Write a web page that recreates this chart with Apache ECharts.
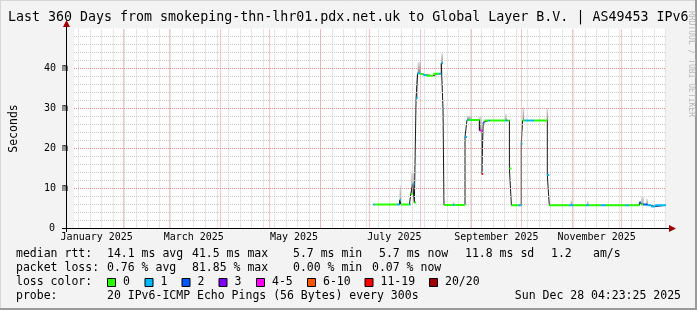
<!DOCTYPE html>
<html><head><meta charset="utf-8">
<script src="https://cdn.jsdelivr.net/npm/echarts@6/dist/echarts.min.js"></script>
<style>html,body{margin:0;padding:0;background:#f3f3f3}#c{width:697px;height:310px}</style>
</head><body><div id="c"></div>
<script>
const titleText = 'Last 360 Days from smokeping-thn-lhr01.pdx.net.uk to Global Layer B.V. | AS49453 IPv6';
const rangeStart = '2025-01-02 04:23:25';
const rangeEnd = '2025-12-28 04:23:25';
const monthLabelDates = ['2025-01-16','2025-03-16','2025-05-16','2025-07-16','2025-09-16','2025-11-16'];
const monthLabels = ['January 2025','March 2025','May 2025','July 2025','September 2025','November 2025'];
const yTicks = [0,10,20,30,40];
const yTickLabels = ['{z|0}','10 m','20 m','30 m','40 m'];

const lossNames = ['0','1','2','3','4-5','6-10','11-19','20/20'];
const lossColors = ['#26ff00','#00b8ff','#0059ff','#7e00ff','#ff00ff','#ff5500','#ff0000','#a00000'];

// median rtt (ms): each value holds from its time until the next time
const medianTimes = [
 '2025-07-03 04:00','2025-07-04 04:00','2025-07-17 13:00','2025-07-19 04:00','2025-07-19 23:00',
 '2025-07-25 04:00','2025-07-25 23:00','2025-07-27 04:00','2025-07-28 04:00','2025-07-29 05:00',
 '2025-07-30 04:00','2025-07-31 14:00','2025-08-02 14:00','2025-08-04 09:00','2025-08-08 14:00',
 '2025-08-12 04:00','2025-08-13 13:00','2025-08-14 14:00','2025-08-15 04:00','2025-08-20 14:00',
 '2025-08-21 14:00','2025-08-27 23:00','2025-08-29 04:00','2025-08-30 09:00','2025-09-05 19:00',
 '2025-09-07 04:00','2025-09-08 00:00','2025-09-08 19:00','2025-09-11 04:00','2025-09-11 23:00',
 '2025-09-21 13:00','2025-09-22 18:00','2025-09-23 23:00','2025-09-25 04:00','2025-09-29 14:00',
 '2025-10-01 04:00','2025-10-02 00:00','2025-10-03 09:00','2025-10-05 19:00','2025-10-06 09:00',
 '2025-10-08 19:00','2025-10-17 00:00','2025-10-18 05:00','2025-10-30 09:00','2025-11-01 19:00',
 '2025-11-09 14:00','2025-11-11 09:00','2025-11-18 14:00','2025-11-21 14:00','2025-12-03 14:00',
 '2025-12-05 09:00','2025-12-11 23:00','2025-12-13 00:00','2025-12-14 09:00','2025-12-16 19:00',
 '2025-12-19 04:00','2025-12-21 14:00'
];
const medianValues = [
 6.0, 6.0, 6.0, 7.1, 6.0,
 6.0, 8.6, 11.1, 6.5, 32.6,
 38.8, 38.6, 38.4, 38.2, 38.7,
 38.7, 41.3, 29.9, 5.9, 5.9,
 5.9, 22.9, 27.1, 27.1, 24.5,
 13.6, 26.5, 27.0, 27.0, 27.0,
 27.0, 27.0, 15.0, 5.8, 5.8,
 21.2, 27.0, 27.0, 27.0, 27.0,
 27.0, 13.4, 5.8, 5.8, 5.8,
 5.8, 5.8, 5.8, 5.8, 5.8,
 5.8, 6.5, 6.0, 6.0, 5.8,
 5.5, 5.8
];
// loss colour class index (into lossNames) for each median step
const medianLoss = [
 1, 0, 1, 1, 0,
 1, 0, 1, 0, 1,
 1, 0, 1, 0, 0,
 1, 1, 1, 0, 1,
 0, 1, 1, 0, 4,
 6, 2, 0, 1, 0,
 1, 0, 0, 0, 1,
 1, 0, 1, 0, 1,
 0, 1, 0, 1, 0,
 1, 0, 1, 0, 1,
 0, 2, 0, 2, 1,
 1, 1
];

// smoke (spread of the 20 pings) : start, end, low, high (ms)
const smokeStart = ['2025-07-19 04:00','2025-07-26 04:00','2025-07-29 05:00','2025-07-30 04:00','2025-08-13 13:00',
 '2025-08-20 14:00','2025-08-29 04:00','2025-09-05 04:00','2025-09-21 09:00','2025-10-02 00:00',
 '2025-10-16 14:00','2025-10-31 04:00','2025-11-10 04:00','2025-12-13 04:00','2025-12-16 04:00'];
const smokeEnd = ['2025-07-19 23:00','2025-07-28 04:00','2025-07-30 04:00','2025-08-01 04:00','2025-08-14 14:00',
 '2025-08-21 14:00','2025-08-31 23:00','2025-09-07 04:00','2025-09-22 04:00','2025-10-02 19:00',
 '2025-10-17 00:00','2025-11-01 00:00','2025-11-11 00:00','2025-12-14 14:00','2025-12-17 04:00'];
const smokeLow = [6.0, 8.6, 32.6, 38.8, 41.3, 5.9, 27.1, 24.5, 27.0, 27.0, 27.0, 5.8, 5.8, 6.0, 5.8];
const smokeHigh = [10.7, 14.0, 38.4, 41.6, 43.8, 6.6, 28.2, 28.0, 28.6, 30.3, 30.1, 7.0, 6.8, 8.0, 7.4];

function ts(s){
  const parts = s.split(' ');
  const d = parts[0].split('-').map(Number);
  const t = (parts[1] || '00:00:00').split(':').map(Number);
  return new Date(d[0], d[1]-1, d[2], t[0]||0, t[1]||0, t[2]||0).getTime();
}

const tStart = ts(rangeStart), tEnd = ts(rangeEnd);
const labelTs = monthLabelDates.map(ts);

const medianLine = medianTimes.map((t,i)=>[ts(t), medianValues[i]]);
medianLine.push([tEnd, medianValues[medianValues.length-1]]);

const lossSeries = lossColors.map((c,k)=>{
  const data = [];
  for (let i=0;i<medianTimes.length;i++){
    if (medianLoss[i] !== k) continue;
    const a = ts(medianTimes[i]);
    const b = i+1<medianTimes.length ? ts(medianTimes[i+1]) : tEnd;
    data.push([a, medianValues[i]], [b, medianValues[i]], [b, null]);
  }
  return {type:'line', data, symbol:'none', lineStyle:{color:c, width:2}, z:5,
          connectNulls:false, silent:true, animation:false};
});

const smokeData = smokeStart.map((s,i)=>[ts(s), ts(smokeEnd[i]), smokeLow[i], smokeHigh[i]]);

// grid lines: weekly (Sundays) + monthly vertical, 2 ms minor + 10 ms major horizontal
const weekLines = [];
for (let k=0;;k++){ const v = new Date(2025,0,5+7*k).getTime(); if (v>tEnd) break; weekLines.push({xAxis:v}); }
const monthLines = [];
for (let m=1;m<12;m++){ monthLines.push({xAxis:new Date(2025,m,1).getTime()}); }
const minorHLines = [];
for (let v=2; v<50; v+=2){ if (v%10!==0) minorHLines.push({yAxis:v}); }
const majorHLines = yTicks.filter(v=>v>0).map(v=>({yAxis:v}));

const mono = '"DejaVu Sans Mono", monospace';
const gridGray = '#cccccc';
const gridRed = '#e89090';
const chart = echarts.init(document.getElementById('c'), null, {renderer:'canvas'});

const graphics = [];
graphics.push({type:'line', shape:{x1:0,y1:0.5,x2:697,y2:0.5}, style:{stroke:'#d6d6d6',lineWidth:1}});
graphics.push({type:'line', shape:{x1:0.5,y1:0,x2:0.5,y2:310}, style:{stroke:'#d6d6d6',lineWidth:1}});
graphics.push({type:'line', shape:{x1:0,y1:309,x2:697,y2:309}, style:{stroke:'#9a9a9a',lineWidth:2}});
graphics.push({type:'line', shape:{x1:696,y1:0,x2:696,y2:310}, style:{stroke:'#9a9a9a',lineWidth:2}});
graphics.push({type:'line', z:20, shape:{x1:62,y1:228.5,x2:670,y2:228.5}, style:{stroke:'#000',lineWidth:1}});
graphics.push({type:'polygon', z:20, shape:{points:[[669,225],[676,228.5],[669,232]]}, style:{fill:'#a00000'}});
graphics.push({type:'line', z:20, shape:{x1:66.5,y1:232,x2:66.5,y2:24}, style:{stroke:'#000',lineWidth:1}});
graphics.push({type:'polygon', z:20, shape:{points:[[63,27],[66.5,20],[70,27]]}, style:{fill:'#a00000'}});
graphics.push({type:'text', z:30, style:{text:titleText, x:8, y:18, font:'13.3px '+mono, fill:'#000', verticalAlign:'middle'}});
graphics.push({type:'text', z:30, x:691, y:64, rotation:-Math.PI/2,
  style:{text:'RRDTOOL / TOBI OETIKER', x:0, y:0, font:'8px '+mono, fill:'#b8b8b8', align:'center', verticalAlign:'middle'}});

const legendFont = '11.5px '+mono;
function txt(t,x,y,align){ graphics.push({type:'text', style:{text:t, x, y, font:legendFont, fill:'#000', verticalAlign:'middle', align:align||'left'}}); }
const rowY = [254.5, 268.5, 282.5, 296.5];
txt('median rtt:',16,rowY[0]);
txt('14.1 ms avg',107,rowY[0]); txt('41.5 ms max',192,rowY[0]); txt('5.7 ms min',293,rowY[0]);
txt('5.7 ms now',379,rowY[0]); txt('11.8 ms sd',465,rowY[0]); txt('1.2',551,rowY[0]); txt('am/s',593,rowY[0]);
txt('packet loss:',16,rowY[1]);
txt('0.76 % avg',107,rowY[1]); txt('81.85 % max',192,rowY[1]); txt('0.00 % min',293,rowY[1]); txt('0.07 % now',372,rowY[1]);
txt('loss color:',16,rowY[2]);
const boxX = [107.5,145,182,219,256.5,307.5,365,429.5];
lossNames.forEach((n,i)=>{
  graphics.push({type:'rect', shape:{x:boxX[i],y:278.5,width:8,height:8}, style:{fill:lossColors[i], stroke:'#000', lineWidth:1}});
  txt(n, boxX[i]+15.5, rowY[2]);
});
txt('probe:',16,rowY[3]);
txt('20 IPv6-ICMP Echo Pings (56 Bytes) every 300s',107,rowY[3]);
txt('Sun Dec 28 04:23:25 2025',681,rowY[3],'right');

function gridSeries(data, color){
  return {type:'line', data:[], z:1, silent:true,
    markLine:{silent:true, symbol:['none','none'], label:{show:false}, animation:false,
      lineStyle:{color, type:[1,1], width:1}, data}};
}

chart.setOption({
  animation:false,
  backgroundColor:'#f3f3f3',
  grid:{left:66, top:28.5, width:600, height:200, show:true, backgroundColor:'#ffffff', borderWidth:0},
  xAxis:{
    type:'value', min:tStart, max:tEnd,
    axisLine:{show:false}, axisTick:{show:false}, splitLine:{show:false},
    axisLabel:{customValues:labelTs, margin:3.5, color:'#000', fontFamily:mono, fontSize:10,
      formatter:(v)=>{ let best=0; labelTs.forEach((t,i)=>{ if(Math.abs(t-v)<Math.abs(labelTs[best]-v)) best=i; }); return monthLabels[best]; }}
  },
  yAxis:{
    type:'value', min:0, max:50, interval:10,
    name:'Seconds', nameLocation:'middle', nameGap:54, nameRotate:90,
    nameTextStyle:{color:'#000', fontFamily:mono, fontSize:11.5},
    axisLine:{show:false}, axisTick:{show:false}, splitLine:{show:false},
    axisLabel:{margin:6, color:'#000', fontFamily:mono, fontSize:10,
      rich:{z:{fontFamily:mono, fontSize:10, color:'#000', padding:[0,13,0,0]}},
      formatter:(v)=>{ const i=yTicks.indexOf(v); return i<0 ? '' : yTickLabels[i]; }}
  },
  graphic:graphics,
  series:[
    gridSeries(weekLines, gridGray),
    gridSeries(minorHLines, gridGray),
    gridSeries(monthLines, gridRed),
    gridSeries(majorHLines, gridRed),
    {type:'custom', z:2, silent:true, data:smokeData,
      renderItem:(params, api)=>{
        const p1 = api.coord([api.value(0), api.value(3)]);
        const p2 = api.coord([api.value(1), api.value(2)]);
        const w = Math.max(p2[0]-p1[0], 1.5);
        return {type:'rect', shape:{x:p1[0], y:p1[1], width:w, height:p2[1]-p1[1]},
          style:{fill:new echarts.graphic.LinearGradient(0,0,0,1,[{offset:0,color:'#dedede'},{offset:1,color:'#8c8c8c'}])}};
      }},
    {type:'line', data:medianLine, step:'end', symbol:'none', z:3, silent:true,
      lineStyle:{color:'#1a1a1a', width:1}},
    ...lossSeries
  ]
});
</script></body></html>
